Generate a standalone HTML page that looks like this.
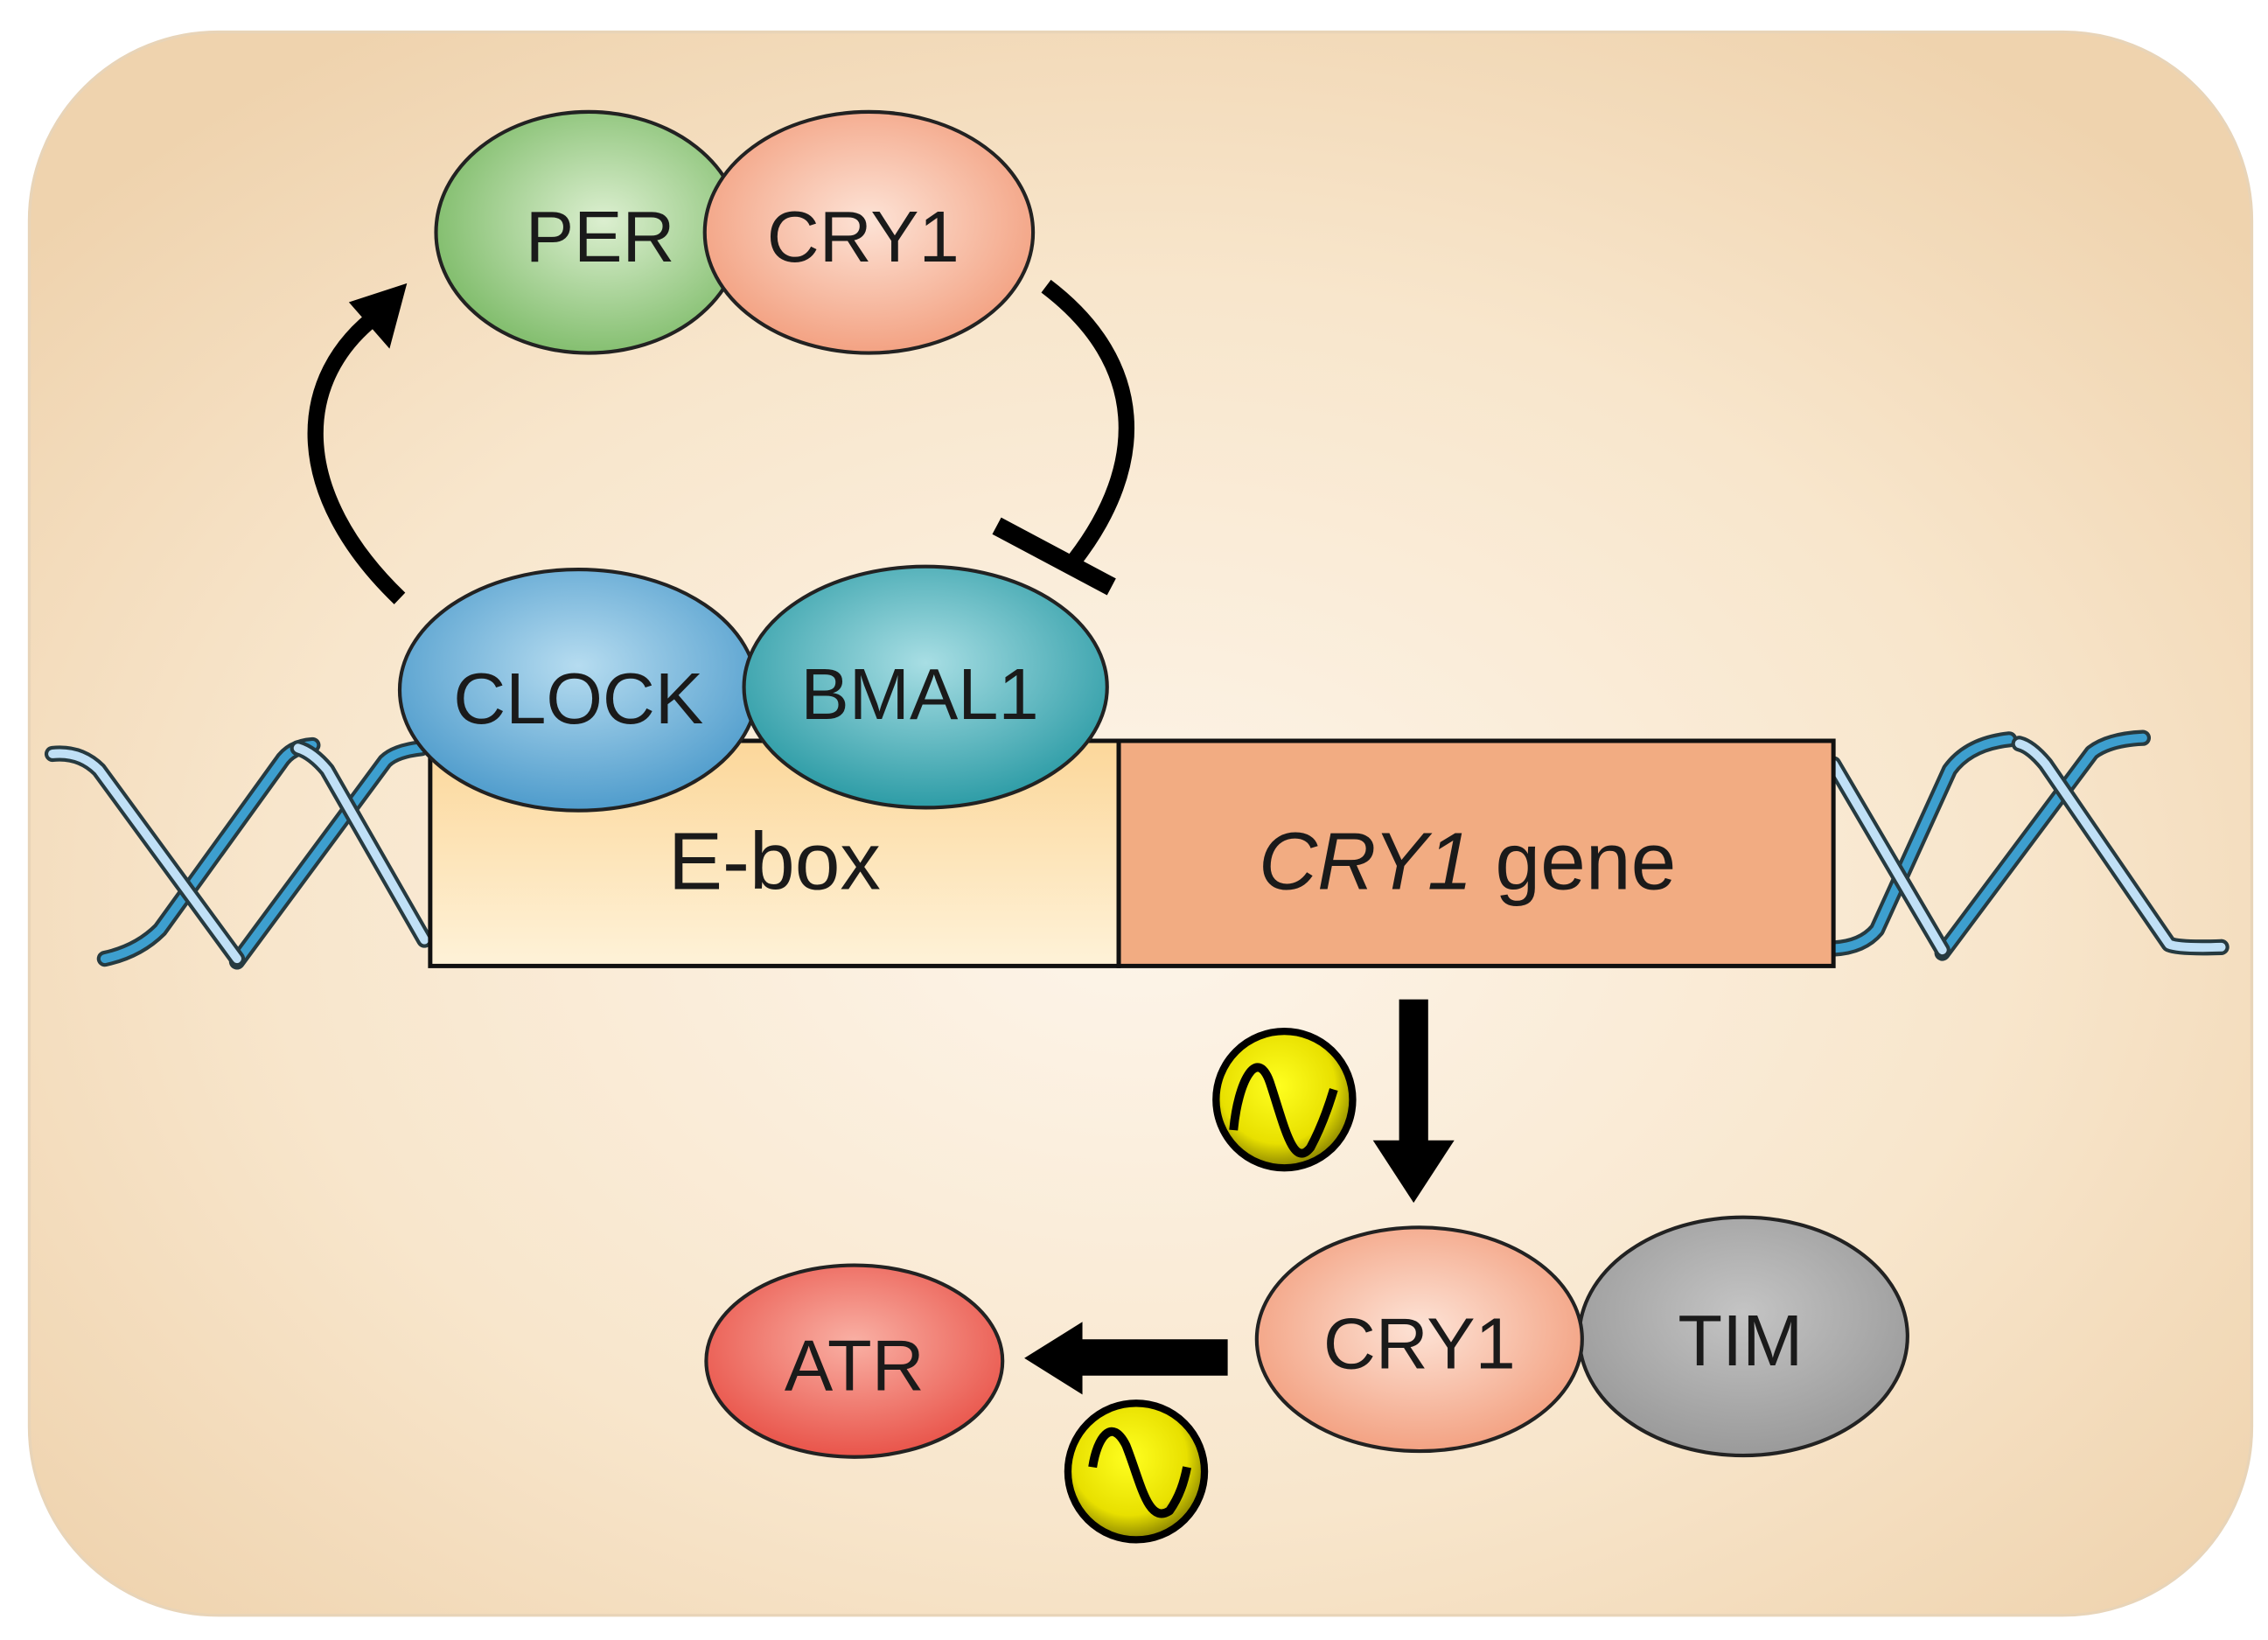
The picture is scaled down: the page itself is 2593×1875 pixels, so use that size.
<!DOCTYPE html>
<html><head><meta charset="utf-8"><style>html,body{margin:0;padding:0;background:#fff}svg{display:block}</style></head>
<body>
<svg width="2593" height="1875" viewBox="0 0 1561 1129" xmlns="http://www.w3.org/2000/svg" font-family="Liberation Sans, Arial, sans-serif">
<defs>
<radialGradient id="bg" cx="0.5" cy="0.55" r="0.65">
<stop offset="0" stop-color="#fdf5ea"/><stop offset="0.6" stop-color="#f8e6cc"/><stop offset="1" stop-color="#efd3ae"/></radialGradient>
<radialGradient id="gr" cx="0.55" cy="0.45" r="0.6"><stop offset="0" stop-color="#dcefd0"/><stop offset="1" stop-color="#7dbb68"/></radialGradient>
<radialGradient id="sa" cx="0.5" cy="0.45" r="0.6"><stop offset="0" stop-color="#fde3d6"/><stop offset="1" stop-color="#f29c7b"/></radialGradient>
<radialGradient id="bl" cx="0.5" cy="0.4" r="0.6"><stop offset="0" stop-color="#b6dcf0"/><stop offset="1" stop-color="#4f9ccc"/></radialGradient>
<radialGradient id="te" cx="0.5" cy="0.4" r="0.6"><stop offset="0" stop-color="#a8dee4"/><stop offset="1" stop-color="#2d9ca6"/></radialGradient>
<radialGradient id="gy" cx="0.5" cy="0.4" r="0.6"><stop offset="0" stop-color="#c4c4c4"/><stop offset="1" stop-color="#9a9a9a"/></radialGradient>
<radialGradient id="rd" cx="0.5" cy="0.4" r="0.6"><stop offset="0" stop-color="#f9b0a4"/><stop offset="1" stop-color="#e9544a"/></radialGradient>
<linearGradient id="eb" x1="0" y1="0" x2="0" y2="1"><stop offset="0" stop-color="#fcd79a"/><stop offset="1" stop-color="#fef2d8"/></linearGradient>
<radialGradient id="ye" cx="0.45" cy="0.4" r="0.6"><stop offset="0" stop-color="#ffff20"/><stop offset="0.7" stop-color="#e8e000"/><stop offset="1" stop-color="#8a8400"/></radialGradient>
</defs>
<rect x="20" y="22" width="1530" height="1090" rx="130" fill="url(#bg)" stroke="#e8d4b8" stroke-width="2"/>
<!-- DNA -->
<g fill="none" stroke-linecap="round" stroke-linejoin="round">
<g stroke="#263a40" stroke-width="11">
<path d="M72 660 Q95 655 110 640 L193 525 Q200 514 215 513"/><path d="M163 662 L265 524 Q272 517 290 515"/>
<path d="M1262 653 Q1282 652 1292 640 L1342 530 Q1355 512 1383 509"/><path d="M1337 656 L1440 518 Q1452 509 1475 508"/></g>
<g stroke="#3d9fcf" stroke-width="6">
<path d="M72 660 Q95 655 110 640 L193 525 Q200 514 215 513"/><path d="M163 662 L265 524 Q272 517 290 515"/>
<path d="M1262 653 Q1282 652 1292 640 L1342 530 Q1355 512 1383 509"/><path d="M1337 656 L1440 518 Q1452 509 1475 508"/></g>
<g stroke="#263a40" stroke-width="11">
<path d="M36 519 Q55 517 68 530 L163 660"/><path d="M205 515 Q215 518 225 530 L292 647"/>
<path d="M1262 526 L1337 654"/><path d="M1390 512 Q1398 514 1408 526 L1493 650 Q1500 653 1529 652"/></g>
<g stroke="#c0e0f6" stroke-width="6">
<path d="M36 519 Q55 517 68 530 L163 660"/><path d="M205 515 Q215 518 225 530 L292 647"/>
<path d="M1262 526 L1337 654"/><path d="M1390 512 Q1398 514 1408 526 L1493 650 Q1500 653 1529 652"/></g>
</g>
<rect x="296" y="510" width="474" height="155" fill="url(#eb)" stroke="#111" stroke-width="3"/>
<rect x="770" y="510" width="492" height="155" fill="#f2ac82" stroke="#111" stroke-width="3"/>
<text x="533" y="612" font-size="56" text-anchor="middle" fill="#1a1a1a">E-box</text>
<text x="1010" y="612" font-size="56" text-anchor="middle" fill="#1a1a1a"><tspan font-style="italic">CRY1</tspan> gene</text>
<!-- top complex -->
<ellipse cx="405" cy="160" rx="105" ry="83" fill="url(#gr)" stroke="#222" stroke-width="2.5"/>
<ellipse cx="598" cy="160" rx="113" ry="83" fill="url(#sa)" stroke="#222" stroke-width="2.5"/>
<text x="413" y="180" font-size="50" text-anchor="middle" fill="#1a1a1a">PER</text>
<text x="594" y="180" font-size="50" text-anchor="middle" fill="#1a1a1a">CRY1</text>
<!-- arrows -->
<path d="M275 412 C200 340 200 260 262 215" fill="none" stroke="#000" stroke-width="11"/>
<polygon points="280,195 240,208 268,240" fill="#000"/>
<path d="M720 197 C790 250 790 320 740 385" fill="none" stroke="#000" stroke-width="11"/>
<line x1="686" y1="362" x2="765" y2="404" stroke="#000" stroke-width="13"/>
<!-- CLOCK BMAL1 -->
<ellipse cx="398" cy="475" rx="123" ry="83" fill="url(#bl)" stroke="#222" stroke-width="2.5"/>
<ellipse cx="637" cy="473" rx="125" ry="83" fill="url(#te)" stroke="#222" stroke-width="2.5"/>
<text x="398" y="498" font-size="50" text-anchor="middle" fill="#1a1a1a">CLOCK</text>
<text x="633" y="495" font-size="50" text-anchor="middle" fill="#1a1a1a">BMAL1</text>
<!-- down arrow -->
<rect x="963" y="688" width="20" height="100" fill="#000"/>
<polygon points="945,785 1001,785 973,828" fill="#000"/>
<!-- sine circles -->
<g stroke="#000" stroke-width="5">
<circle cx="884" cy="757" r="47" fill="url(#ye)"/>
<circle cx="782" cy="1013" r="47" fill="url(#ye)"/>
</g>
<g fill="none" stroke="#000" stroke-width="6" stroke-linejoin="round">
<path d="M849 778 C852 745 865 720 874 745 C884 775 890 805 902 790 C910 775 915 760 918 750"/>
<path d="M752 1010 C755 990 765 975 775 995 C785 1020 790 1050 805 1040 C812 1030 815 1020 817 1010"/>
</g>
<!-- bottom -->
<ellipse cx="1200" cy="920" rx="113" ry="82" fill="url(#gy)" stroke="#222" stroke-width="2.5"/>
<ellipse cx="977" cy="922" rx="112" ry="77" fill="url(#sa)" stroke="#222" stroke-width="2.5"/>
<text x="1198" y="940" font-size="50" text-anchor="middle" fill="#1a1a1a">TIM</text>
<text x="977" y="942" font-size="50" text-anchor="middle" fill="#1a1a1a">CRY1</text>
<ellipse cx="588" cy="937" rx="102" ry="66" fill="url(#rd)" stroke="#222" stroke-width="2.5"/>
<text x="588" y="957" font-size="50" text-anchor="middle" fill="#1a1a1a">ATR</text>
<rect x="740" y="922" width="105" height="25" fill="#000"/>
<polygon points="745,910 745,960 705,935" fill="#000"/>
</svg>
</body></html>
